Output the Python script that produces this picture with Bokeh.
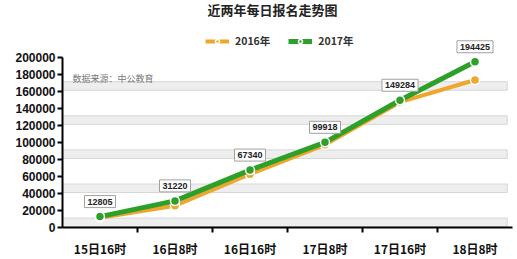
from bokeh.plotting import figure
from bokeh.models import (ColumnDataSource, FixedTicker, Legend, LegendItem,
                          Label, Range1d, NumeralTickFormatter)
from bokeh.core.properties import value
from bokeh.embed import file_html
from bokeh.resources import INLINE

# Registration counts at each checkpoint
categories = ["15日16时", "16日8时", "16日16时", "17日8时", "17日16时", "18日8时"]
values_2016 = [11500, 25500, 62500, 97000, 147000, 173000]
values_2017 = [12805, 31220, 67340, 99918, 149284, 194425]
y_ticks = list(range(0, 200001, 20000))

FONT = "Liberation Sans"
CJK = "Noto Sans CJK SC"
GREEN = "#2ea02a"
ORANGE = "#eea62c"

x_pos = list(range(len(categories)))
src = ColumnDataSource(dict(
    x=x_pos,
    v16=values_2016,
    v17=values_2017,
    lbl=[str(v) for v in values_2017],
))

p = figure(width=517, height=259, output_backend="svg", toolbar_location=None,
           x_range=Range1d(-0.5, 5.5), y_range=Range1d(0, 266279),
           min_border_left=62, min_border_right=5, min_border_top=0,
           min_border_bottom=30)
p.outline_line_color = None
p.xgrid.visible = False
p.ygrid.visible = False
p.background_fill_color = "white"

# striped plot background
band_bottom = [t + 1000 for t in y_ticks[:-1:2]]
band_top = [b + 10000 for b in band_bottom]
p.quad(left=-0.5, right=5.43, bottom=band_bottom, top=band_top,
       fill_color="#eeeeee", line_color="#d6d6d6", line_width=1)

# series lines and markers
r16l = p.line("x", "v16", source=src, line_color=ORANGE, line_width=4)
r16c = p.scatter("x", "v16", source=src, marker="circle", size=9,
                 fill_color=ORANGE, line_color="white", line_width=1.5)
r17l = p.line("x", "v17", source=src, line_color=GREEN, line_width=5)
r17c = p.scatter("x", "v17", source=src, marker="circle", size=9,
                 fill_color=GREEN, line_color="white", line_width=1.5)

# value callouts above the 2017 points
p.text("x", "v17", text="lbl", source=src, y_offset=-15,
       text_align="center", text_baseline="middle",
       text_font=value(FONT), text_font_style="bold", text_font_size="9px",
       text_color="#222222", background_fill_color="white",
       border_line_color="#a0a0a0", border_line_width=1, padding=3)

# y axis
ya = p.yaxis[0]
ya.ticker = FixedTicker(ticks=y_ticks)
ya.formatter = NumeralTickFormatter(format="0")
ya.bounds = (0, 200000)
ya.axis_line_color = "black"
ya.axis_line_width = 2
ya.major_tick_out = 5
ya.major_tick_in = 0
ya.major_tick_line_width = 2
ya.minor_tick_out = 0
ya.minor_tick_in = 0
ya.major_label_standoff = 2
ya.major_label_text_font = FONT
ya.major_label_text_font_style = "bold"
ya.major_label_text_font_size = "12px"
ya.major_label_text_color = "#111111"

# x axis: labels at category centres, ticks between categories
xa = p.xaxis[0]
xa.ticker = FixedTicker(ticks=x_pos,
                        minor_ticks=[i + 0.5 for i in x_pos[:-1]])
xa.major_label_overrides = {i: c for i, c in enumerate(categories)}
xa.axis_line_color = "black"
xa.axis_line_width = 2
xa.major_tick_out = 0
xa.major_tick_in = 0
xa.minor_tick_out = 5
xa.minor_tick_in = 0
xa.minor_tick_line_color = "black"
xa.minor_tick_line_width = 2
xa.major_label_standoff = 7
xa.major_label_text_font = CJK
xa.major_label_text_font_style = "bold"
xa.major_label_text_font_size = "12px"
xa.major_label_text_color = "#111111"

# title and source note
p.add_layout(Label(x=210, y=218, x_units="screen", y_units="screen",
                   text="近两年每日报名走势图", text_font=CJK,
                   text_font_style="bold", text_font_size="13px",
                   text_color="#222222", text_align="center",
                   text_baseline="middle"))
p.add_layout(Label(x=10, y=149, x_units="screen", y_units="screen",
                   text="数据来源：中公教育", text_font=CJK,
                   text_font_size="9px", text_color="#777777",
                   text_baseline="middle"))

legend = Legend(items=[LegendItem(label="2016年", renderers=[r16l, r16c]),
                       LegendItem(label="2017年", renderers=[r17l, r17c])],
                orientation="horizontal", location=(143, 179),
                glyph_width=24, glyph_height=10, label_height=10,
                label_standoff=6, spacing=18, padding=0, margin=0,
                border_line_color=None, background_fill_alpha=0,
                label_text_font=CJK, label_text_font_size="10.5px",
                label_text_font_style="bold", label_text_color="#333333")
p.add_layout(legend)

open("out.html", "w").write(file_html(p, INLINE))
